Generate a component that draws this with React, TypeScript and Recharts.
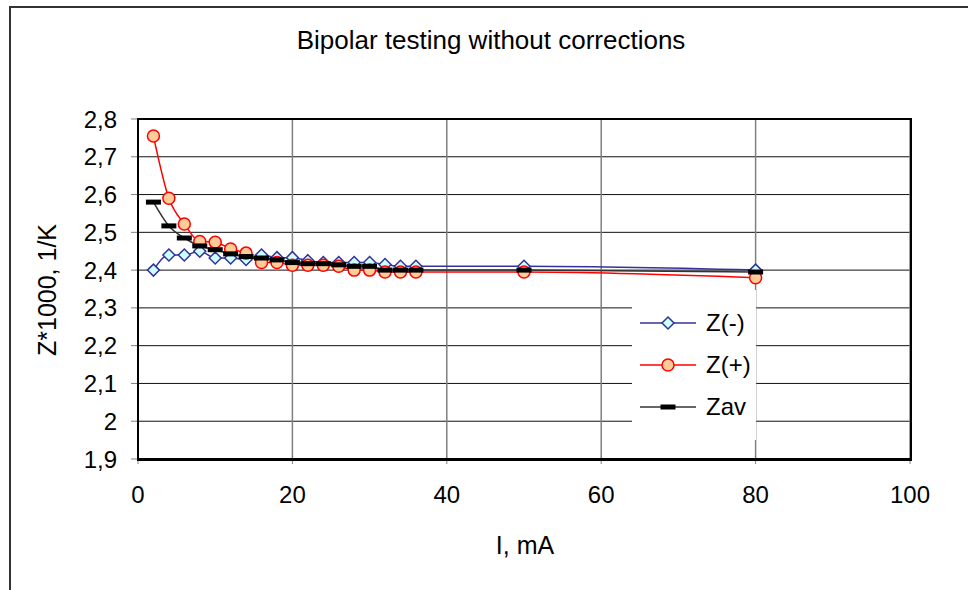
import { LineChart, Line, XAxis, YAxis, CartesianGrid } from "recharts";

const currents = [2, 4, 6, 8, 10, 12, 14, 16, 18, 20, 22, 24, 26, 28, 30, 32, 34, 36, 50, 80];
const zMinus = [2.4, 2.44, 2.44, 2.45, 2.432, 2.432, 2.428, 2.44, 2.433, 2.433, 2.425, 2.42, 2.42, 2.42, 2.42, 2.415, 2.41, 2.41, 2.41, 2.4];
const zPlus = [2.755, 2.59, 2.522, 2.476, 2.474, 2.456, 2.445, 2.42, 2.42, 2.413, 2.413, 2.413, 2.41, 2.4, 2.4, 2.395, 2.395, 2.395, 2.395, 2.38];
const zAv = [2.58, 2.517, 2.485, 2.464, 2.454, 2.443, 2.436, 2.432, 2.427, 2.42, 2.417, 2.417, 2.414, 2.41, 2.41, 2.4, 2.4, 2.4, 2.4, 2.395];

const xTicks = [0, 20, 40, 60, 80, 100];
const yTicks = [1.9, 2, 2.1, 2.2, 2.3, 2.4, 2.5, 2.6, 2.7, 2.8];

const data = currents.map((i, idx) => ({
  i,
  zMinus: zMinus[idx],
  zPlus: zPlus[idx],
  zAv: zAv[idx],
}));

const FONT = '"Liberation Sans", Arial, sans-serif';

// marker shapes, like the Excel ones
function Diamond({ cx, cy, size = 6 }: any) {
  if (cx == null || cy == null) return null;
  const s = size;
  return (
    <path
      d={`M${cx},${cy - s} L${cx + s},${cy} L${cx},${cy + s} L${cx - s},${cy} Z`}
      fill="#ccffff"
      stroke="#333399"
      strokeWidth={1.5}
    />
  );
}

function Ring({ cx, cy }: any) {
  if (cx == null || cy == null) return null;
  return <circle cx={cx} cy={cy} r={6} fill="#ffcc99" stroke="#ff0000" strokeWidth={1.5} />;
}

function Dash({ cx, cy }: any) {
  if (cx == null || cy == null) return null;
  return <rect x={cx - 7.5} y={cy - 2.5} width={15} height={5} fill="#000" />;
}

const legendItems = [
  { name: "Z(-)", color: "#333399", Mark: Diamond },
  { name: "Z(+)", color: "#ff0000", Mark: Ring },
  { name: "Zav", color: "#333333", Mark: Dash },
];

function LegendBox() {
  return (
    <div style={{ position: "absolute", left: 632, top: 290, width: 124, height: 150, background: "#fff", fontSize: 24 }}>
      {legendItems.map(({ name, color, Mark }, k) => (
        <div key={name} style={{ position: "absolute", left: 0, top: 12 + k * 42, height: 42, display: "flex", alignItems: "center" }}>
          <svg width={68} height={20} style={{ marginLeft: 8 }}>
            <line x1={0} y1={10} x2={56} y2={10} stroke={color} strokeWidth={1.5} />
            <Mark cx={28} cy={10} />
          </svg>
          <span style={{ marginLeft: -2 }}>{name}</span>
        </div>
      ))}
    </div>
  );
}

export default function App() {
  const fmt = (v: number) => String(v).replace(".", ",");
  return (
    <div style={{ position: "fixed", left: 0, top: 0, width: 968, height: 590, background: "#fff", overflow: "hidden", fontFamily: FONT }}>
      <div style={{ position: "absolute", left: 9, top: 6, width: 1000, height: 700, borderLeft: "2px solid #333", borderTop: "2px solid #333" }} />
      <div style={{ position: "absolute", left: 0, width: 982, top: 25, textAlign: "center", fontSize: 26 }}>
        Bipolar testing without corrections
      </div>
      <div style={{ position: "absolute", left: 0, top: 0 }}>
        <LineChart width={968} height={590} data={data} margin={{ top: 119, right: 58, bottom: 0, left: 0 }}>
          <CartesianGrid horizontal={true} vertical={false} stroke="#111" strokeWidth={1} />
          <CartesianGrid horizontal={false} vertical={true} stroke="#808080" strokeWidth={1.5} />
          <XAxis
            dataKey="i"
            type="number"
            domain={[0, 100]}
            ticks={xTicks}
            axisLine={{ stroke: "#000", strokeWidth: 2 }}
            tickLine={{ stroke: "#808080" }}
            tickSize={5}
            tickMargin={22}
            tick={{ fontSize: 24, fill: "#000", fontFamily: FONT }}
            height={131}
          />
          <YAxis
            type="number"
            domain={[1.9, 2.8]}
            ticks={yTicks}
            tickFormatter={fmt}
            axisLine={{ stroke: "#000", strokeWidth: 2 }}
            tickLine={{ stroke: "#808080" }}
            tickSize={7}
            tickMargin={14}
            tick={{ fontSize: 24, fill: "#000", fontFamily: FONT }}
            width={138}
            interval={0}
          />
          <Line
            type="monotone"
            dataKey="zMinus"
            name="Z(-)"
            stroke="#333399"
            strokeWidth={1.5}
            dot={<Diamond />}
            activeDot={false}
            isAnimationActive={false}
          />
          <Line
            type="monotone"
            dataKey="zPlus"
            name="Z(+)"
            stroke="#ff0000"
            strokeWidth={1.5}
            dot={<Ring />}
            activeDot={false}
            isAnimationActive={false}
          />
          <Line
            type="monotone"
            dataKey="zAv"
            name="Zav"
            stroke="#333333"
            strokeWidth={1.5}
            dot={<Dash />}
            activeDot={false}
            isAnimationActive={false}
          />
        </LineChart>
      </div>
      <LegendBox />
      <div style={{ position: "absolute", left: 137, top: 118, width: 771, height: 339, border: "2px solid #000", pointerEvents: "none" }} />
      <div
        style={{
          position: "absolute",
          left: 47,
          top: 290,
          transform: "translate(-50%, -50%) rotate(-90deg)",
          whiteSpace: "nowrap",
          fontSize: 25,
        }}
      >
        Z*1000, 1/K
      </div>
      <div style={{ position: "absolute", left: 525, top: 545, transform: "translate(-50%, -50%)", whiteSpace: "nowrap", fontSize: 25 }}>
        I, mA
      </div>
    </div>
  );
}
